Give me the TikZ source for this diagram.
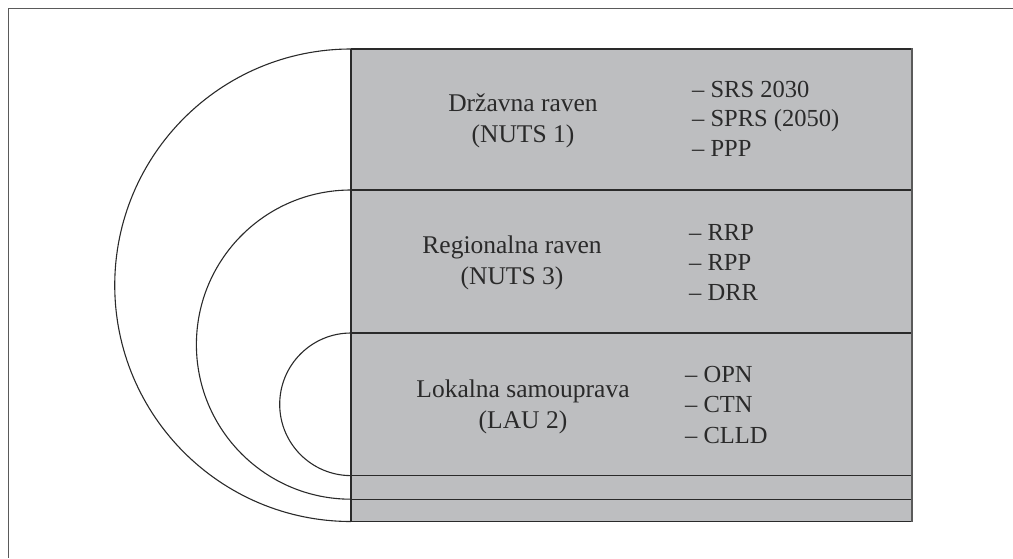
\documentclass[tikz,border=0pt]{standalone}
\usepackage{fontspec}
\setmainfont{Liberation Serif}
\definecolor{boxgray}{HTML}{BDBEC0}
\definecolor{linedark}{HTML}{2A2A2A}
\definecolor{framegray}{HTML}{5A5A5A}
\tikzset{
  lbl/.style={inner sep=0pt, anchor=base, font=\fontsize{25.5}{30}\selectfont, text=linedark},
  lst/.style={inner sep=0pt, anchor=base west, font=\fontsize{24.5}{29}\selectfont, text=linedark},
  arcline/.style={draw=linedark, line width=1.1pt},
  divline/.style={draw=linedark, line width=1.3pt},
  frameline/.style={draw=framegray, line width=1.6pt}
}
\begin{document}
\begin{tikzpicture}[x=1pt,y=-1pt]
\useasboundingbox (0,0) rectangle (1013,558);
% frame (top and left only)
\coordinate (fTL) at (8.5,8.5);
\coordinate (fTR) at (1013,8.5);
\coordinate (fBL) at (8.5,558);
\draw[frameline] (fTR) -- (fTL) -- (fBL);
% gray panel
\coordinate (pTL) at (351,49);
\coordinate (pBR) at (912,521.5);
\fill[boxgray] (pTL) rectangle (pBR);
% arcs
\draw[arcline] (351,49) arc[start angle=-90, end angle=-270, radius=236.25];
\draw[arcline] (351,190) arc[start angle=-90, end angle=-270, radius=154.6];
\draw[arcline] (351,333) arc[start angle=-90, end angle=-270, radius=71.3];
% dividers
\draw[divline] (351,49) -- (912,49);
\draw[divline] (351,190) -- (912,190);
\draw[divline] (351,333) -- (912,333);
\draw[divline] (351,475.7) -- (912,475.7);
\draw[divline] (351,499.2) -- (912,499.2);
\draw[divline] (351,521.5) -- (912,521.5);
\draw[draw=linedark, line width=1.2pt] (351,49) -- (351,521.5);
\draw[draw=framegray, line width=2pt] (912,48.4) -- (912,522.1);
% texts
\node[lbl] (t1a) at (523,111) {Državna raven};
\node[lbl] (t1b) at (523,142) {(NUTS 1)};
\node[lst] (l1a) at (692,97.3) {– SRS 2030};
\node[lst] (l1b) at (692,126.8) {– SPRS (2050)};
\node[lst] (l1c) at (692,156.5) {– PPP};
\node[lbl] (t2a) at (512,253) {Regionalna raven};
\node[lbl] (t2b) at (512,284) {(NUTS 3)};
\node[lst] (l2a) at (689,240) {– RRP};
\node[lst] (l2b) at (689,270) {– RPP};
\node[lst] (l2c) at (689,300.5) {– DRR};
\node[lbl] (t3a) at (523,397) {Lokalna samouprava};
\node[lbl] (t3b) at (523,428) {(LAU 2)};
\node[lst] (l3a) at (685,382) {– OPN};
\node[lst] (l3b) at (685,412.5) {– CTN};
\node[lst] (l3c) at (685,443) {– CLLD};
\end{tikzpicture}
\end{document}
